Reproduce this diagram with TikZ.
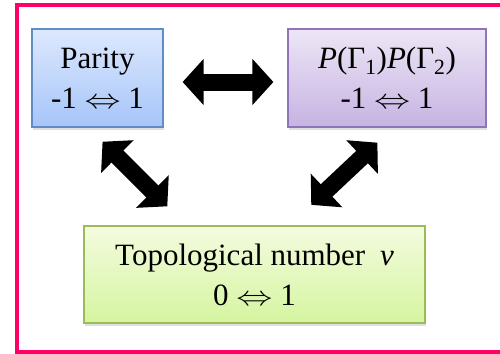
\documentclass[tikz,border=0pt]{standalone}
\usepackage{fontspec}
\setmainfont{Liberation Serif}
\usetikzlibrary{arrows.meta,shadows}
\definecolor{rim}{RGB}{255,0,102}
\definecolor{bluetop}{RGB}{221,232,253}
\definecolor{bluebot}{RGB}{166,197,249}
\definecolor{blueedge}{RGB}{98,140,198}
\definecolor{violettop}{RGB}{237,230,246}
\definecolor{violetbot}{RGB}{198,179,226}
\definecolor{violetedge}{RGB}{143,116,184}
\definecolor{greentop}{RGB}{244,251,223}
\definecolor{greenbot}{RGB}{213,245,160}
\definecolor{greenedge}{RGB}{155,187,89}
\newcommand\flip{\scalebox{1.45}[1.1]{$\Leftrightarrow$}}

\tikzset{
  card/.style={draw, line width=1.2pt, inner sep=0pt, align=center,
    minimum height=98pt, font=\fontsize{31}{40}\selectfont,
    drop shadow={shadow xshift=1pt, shadow yshift=-3pt, opacity=0.25}},
  bigarrow/.style={line width=17pt,
    {Triangle[length=21pt,width=45pt]}-{Triangle[length=21pt,width=45pt]}}
}

\begin{document}
\begin{tikzpicture}[x=1pt,y=-1pt]
  \useasboundingbox (0,0) rectangle (500,353);
  \clip (0,0) rectangle (500,353);
  % outer frame, cut on the right
  \draw[rim, line width=4pt] (17,5) rectangle (530,351.5);
  % the three boxes
  \node[card, draw=blueedge, top color=bluetop, bottom color=bluebot,
    minimum width=131pt] (parity) at (97.5,78) {Parity\\-1 \flip{} 1};
  \node[card, draw=violetedge, top color=violettop, bottom color=violetbot,
    minimum width=198pt] (pgamma) at (387,78)
    {\textit{P}(Γ\textsubscript{1})\textit{P}(Γ\textsubscript{2})\\-1 \flip{} 1};
  \node[card, draw=greenedge, top color=greentop, bottom color=greenbot,
    minimum width=341pt, minimum height=97pt] (topo) at (254.5,274.5)
    {Topological number\hspace{7pt} \textit{ν}\\0 \flip{} 1};
  % block arrows
  \draw[bigarrow, shorten <=19pt, shorten >=14pt]
    ([yshift=-4pt]parity.east) -- ([yshift=-4pt]pgamma.west);
  \draw[bigarrow, shorten <=20pt, shorten >=27pt]
    ([xshift=57pt]parity.south west) -- ([xshift=103pt]topo.north west);
  \draw[bigarrow, shorten <=22pt, shorten >=30pt]
    ([xshift=106pt]pgamma.south west) -- ([xshift=206pt]topo.north west);
\end{tikzpicture}
\end{document}
